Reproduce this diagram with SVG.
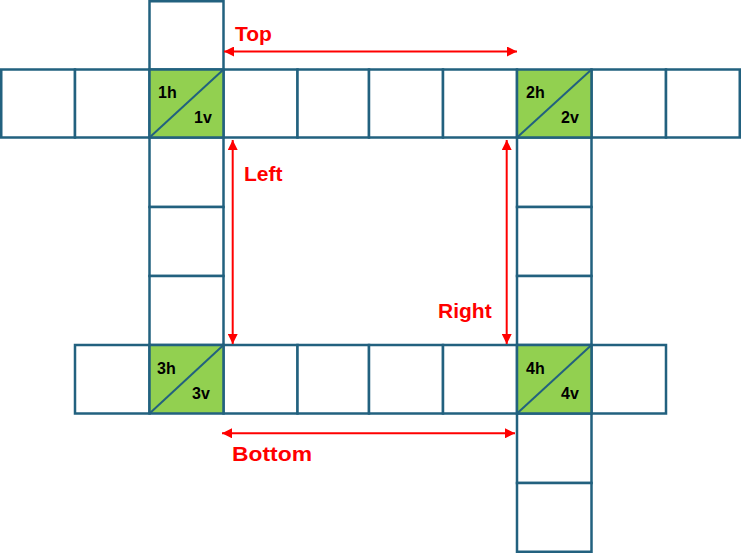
<svg xmlns="http://www.w3.org/2000/svg" width="741" height="553" viewBox="0 0 741 553">
<style>
.c{fill:#fff;stroke:#22617f;stroke-width:2.5}
.g{fill:#92d050;stroke:#22617f;stroke-width:2.5}
.d{stroke:#22617f;stroke-width:2;fill:none}
.t{font-family:"Liberation Sans",Arial,sans-serif;font-weight:bold;font-size:16px;fill:#000}
.lab{font-family:"Liberation Sans",Arial,sans-serif;font-weight:bold;font-size:21px;fill:#ff0000}
.a{stroke:#ff0000;stroke-width:2;fill:none;marker-start:url(#ah);marker-end:url(#ah)}
</style>
<defs>
<marker id="ah" viewBox="0 0 10 10" refX="10" refY="5" markerWidth="5" markerHeight="5" orient="auto-start-reverse" markerUnits="strokeWidth">
<path d="M0,0 L10,5 L0,10 z" fill="#ff0000"/>
</marker>
</defs>
<g id="top-row">
<g id="r1c1"><rect class="c" x="1.25" y="69.5" width="73.75" height="68"/></g>
<g id="r1c2"><rect class="c" x="75" y="69.5" width="74.5" height="68"/></g>
<g id="r1c4"><rect class="c" x="223.5" y="69.5" width="74" height="68"/></g>
<g id="r1c5"><rect class="c" x="297.5" y="69.5" width="71.5" height="68"/></g>
<g id="r1c6"><rect class="c" x="369" y="69.5" width="74" height="68"/></g>
<g id="r1c7"><rect class="c" x="443" y="69.5" width="74" height="68"/></g>
<g id="r1c9"><rect class="c" x="591.5" y="69.5" width="74.5" height="68"/></g>
<g id="r1c10"><rect class="c" x="666" y="69.5" width="73.75" height="68"/></g>
</g>
<g id="left-column">
<g id="l0"><rect class="c" x="149.5" y="1.25" width="74" height="68.25"/></g>
<g id="l1"><rect class="c" x="149.5" y="137.5" width="74" height="69.5"/></g>
<g id="l2"><rect class="c" x="149.5" y="207" width="74" height="69"/></g>
<g id="l3"><rect class="c" x="149.5" y="276" width="74" height="69"/></g>
</g>
<g id="right-column">
<g id="rc1"><rect class="c" x="517" y="137.5" width="74.5" height="69.5"/></g>
<g id="rc2"><rect class="c" x="517" y="207" width="74.5" height="69"/></g>
<g id="rc3"><rect class="c" x="517" y="276" width="74.5" height="69"/></g>
<g id="rc4"><rect class="c" x="517" y="413.5" width="74.5" height="69.5"/></g>
<g id="rc5"><rect class="c" x="517" y="483" width="74.5" height="68.75"/></g>
</g>
<g id="bottom-row">
<g id="b1"><rect class="c" x="75" y="345" width="74.5" height="68.5"/></g>
<g id="b3"><rect class="c" x="223.5" y="345" width="74" height="68.5"/></g>
<g id="b4"><rect class="c" x="297.5" y="345" width="71.5" height="68.5"/></g>
<g id="b5"><rect class="c" x="369" y="345" width="74" height="68.5"/></g>
<g id="b6"><rect class="c" x="443" y="345" width="74" height="68.5"/></g>
<g id="b8"><rect class="c" x="591.5" y="345" width="74.5" height="68.5"/></g>
</g>
<g id="cell-1">
<rect class="g" x="149.5" y="69.5" width="74" height="68"/>
<line class="d" x1="149.5" y1="137.5" x2="223.5" y2="69.5"/>
<text class="t" x="158" y="97.5">1h</text>
<text class="t" x="194" y="122.5">1v</text>
</g>
<g id="cell-2">
<rect class="g" x="517" y="69.5" width="74.5" height="68"/>
<line class="d" x1="517" y1="137.5" x2="591.5" y2="69.5"/>
<text class="t" x="526" y="97.5">2h</text>
<text class="t" x="561" y="122.5">2v</text>
</g>
<g id="cell-3">
<rect class="g" x="149.5" y="345" width="74" height="68.5"/>
<line class="d" x1="149.5" y1="413.5" x2="223.5" y2="345"/>
<text class="t" x="157" y="373.5">3h</text>
<text class="t" x="192" y="398.5">3v</text>
</g>
<g id="cell-4">
<rect class="g" x="517" y="345" width="74.5" height="68.5"/>
<line class="d" x1="517" y1="413.5" x2="591.5" y2="345"/>
<text class="t" x="526" y="373.5">4h</text>
<text class="t" x="561" y="398.5">4v</text>
</g>
<g id="connectors">
<line class="a" x1="224" y1="51.5" x2="517" y2="51.5"/>
<line class="a" x1="232.7" y1="140" x2="232.7" y2="344"/>
<line class="a" x1="506.7" y1="140" x2="506.7" y2="344"/>
<line class="a" x1="222" y1="433.3" x2="515" y2="433.3"/>
</g>
<g id="labels">
<text class="lab" x="235" y="40.5">Top</text>
<text class="lab" x="244" y="181">Left</text>
<text class="lab" x="438" y="318">Right</text>
<text class="lab" x="232" y="461" textLength="80" lengthAdjust="spacingAndGlyphs">Bottom</text>
</g>
</svg>
